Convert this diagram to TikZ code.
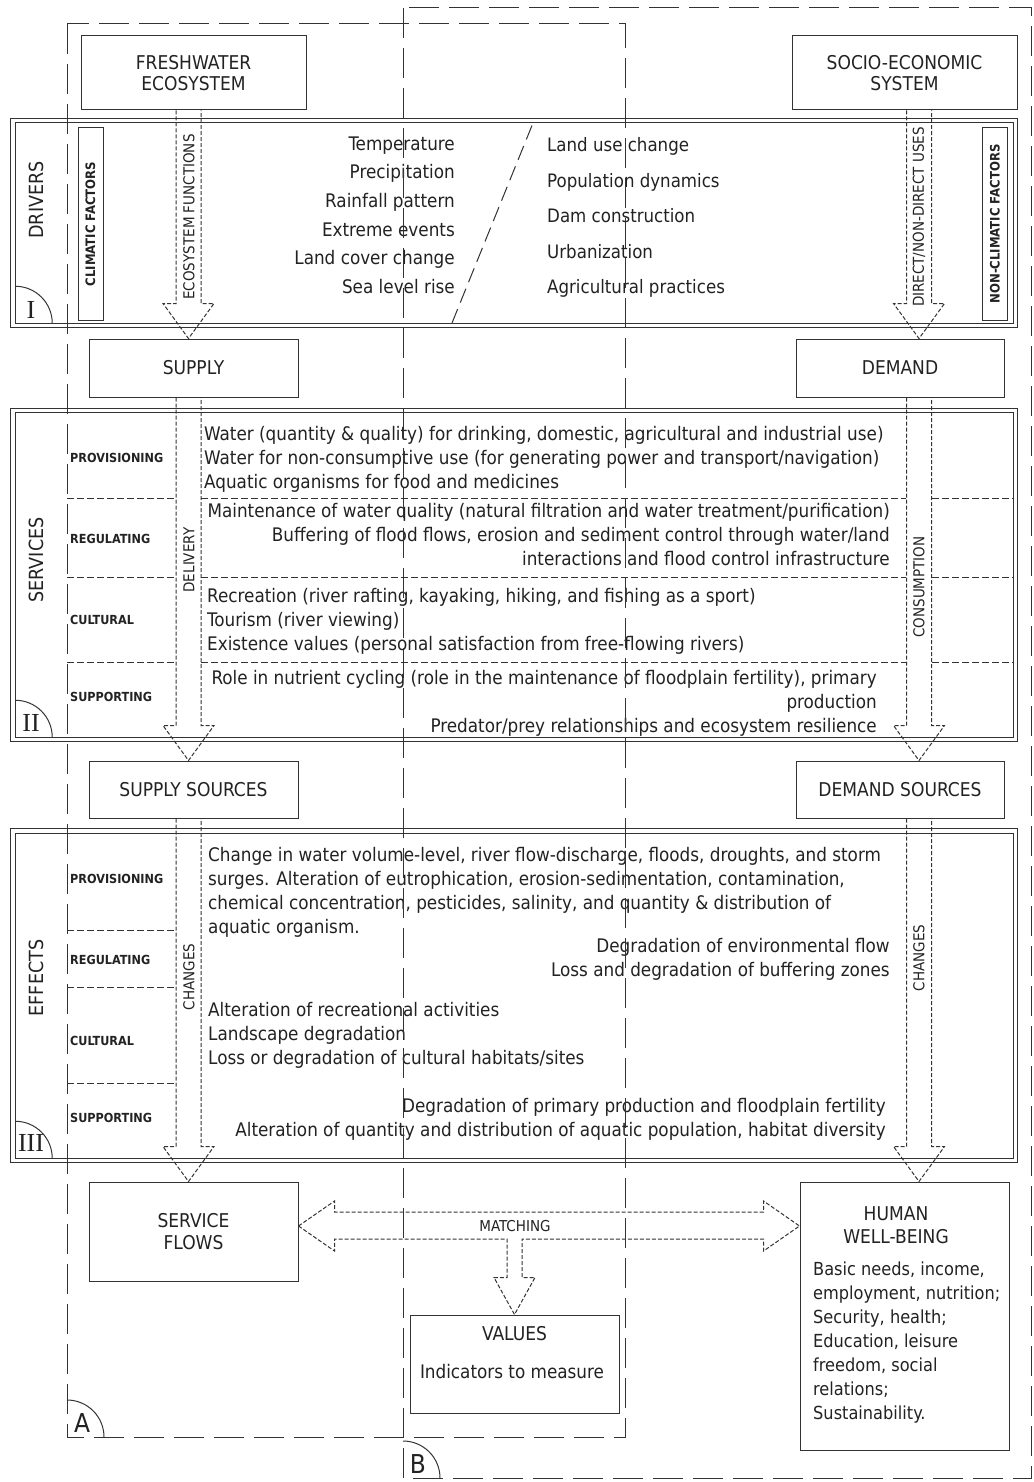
\documentclass[tikz,border=0pt]{standalone}
\usepackage{fontspec}
\setmainfont{DejaVu Sans Condensed}
\newfontfamily\romanfont{Liberation Serif}
\usepackage{tikz}
\usetikzlibrary{calc}
\definecolor{linegray}{HTML}{333333}
\definecolor{inkgray}{HTML}{222222}
\tikzstyle{box} = [rectangle, draw=linegray, line width=1pt, text centered,
    align=center, inner sep=0pt, text=inkgray, font=\fontsize{19}{21.5}\selectfont]
\tikzstyle{boxtext} = [inner sep=0pt, align=center, text=inkgray,
    font=\fontsize{19}{23}\selectfont]
\tikzstyle{panel} = [rectangle, draw=linegray, double, double distance=3.5pt,
    line width=1pt, inner sep=0pt]
\tikzstyle{frame} = [draw=linegray, line width=1pt, dash pattern=on 30pt off 10pt]
\tikzstyle{flowline} = [draw=linegray, line width=1pt, dash pattern=on 4pt off 2pt]
\tikzstyle{sepline} = [draw=linegray, line width=1pt, dash pattern=on 7pt off 3pt]
\tikzstyle{slant} = [draw=linegray, line width=1pt, dash pattern=on 15pt off 7pt]
\tikzstyle{corner} = [draw=linegray, line width=1pt]
\tikzstyle{bodytext} = [inner sep=0pt, text=inkgray, font=\fontsize{18.7}{24}\selectfont]
\tikzstyle{catlabel} = [anchor=west, inner sep=0pt, text=inkgray,
    font=\fontsize{12.5}{14}\selectfont\bfseries]
\tikzstyle{sidelabel} = [rotate=90, inner sep=0pt, text=inkgray,
    font=\fontsize{19.5}{20}\selectfont]
\tikzstyle{flowlabel} = [rotate=90, inner sep=0pt, text=inkgray,
    font=\fontsize{15}{16}\selectfont]
\tikzstyle{factorbox} = [rectangle, rotate=90, draw=linegray, line width=1pt,
    inner sep=0pt, text=inkgray, minimum width=192pt, minimum height=25pt,
    font=\fontsize{13}{14}\selectfont\bfseries]
\tikzstyle{numeral} = [inner sep=0pt, text=inkgray, font=\romanfont\fontsize{26}{26}\selectfont]
\tikzstyle{framelabel} = [inner sep=0pt, text=inkgray, font=\fontsize{26}{26}\selectfont]
% hollow dashed arrow: column, from node, to node
\newcommand{\flowdown}[3]{%
  \draw[flowline] ([xshift=-12.5pt]#1 |- #2.south)
    -- ([xshift=-12.5pt,yshift=35pt]#1 |- #3.north)
    -- ([xshift=-25.5pt,yshift=35pt]#1 |- #3.north)
    -- (#1 |- #3.north)
    -- ([xshift=25.5pt,yshift=35pt]#1 |- #3.north)
    -- ([xshift=12.5pt,yshift=35pt]#1 |- #3.north)
    -- ([xshift=12.5pt]#1 |- #2.south);}

\begin{document}
\begin{tikzpicture}[x=1pt, y=-1pt]
            \useasboundingbox (0,0) rectangle (1033,1482);
            % Panels
            \node[panel, minimum width=1002.5pt, minimum height=205pt] (drivers) at (514.25,223) {};
            \node[panel, minimum width=1002.5pt, minimum height=329pt] (services) at (514.25,575) {};
            \node[panel, minimum width=1002.5pt, minimum height=329.5pt] (effects) at (514.25,995.75) {};
            \draw[corner] (15.25,286.25) arc[start angle=90, end angle=0, radius=37pt];
            \draw[corner] (15.25,700.25) arc[start angle=90, end angle=0, radius=37pt];
            \draw[corner] (15.25,1121.25) arc[start angle=90, end angle=0, radius=37pt];
            \node[numeral] (num1) at (31,310) {I};
            \node[numeral] (num2) at (31,723) {II};
            \node[numeral] (num3) at (31,1143) {III};
            \node[sidelabel] (drvlabel) at (36,200) {DRIVERS};
            \node[sidelabel] (srvlabel) at (36,560) {SERVICES};
            \node[sidelabel] (efflabel) at (36,978) {EFFECTS};
            % Boxes
            \node[box, minimum width=225pt, minimum height=74pt] (fresh) at (193.5,73) {FRESHWATER\\ECOSYSTEM};
            \node[box, minimum width=225pt, minimum height=74pt] (socio) at (904.5,73) {SOCIO-ECONOMIC\\SYSTEM};
            \node[box, minimum width=209pt, minimum height=58pt] (supply) at (193.5,368) {SUPPLY};
            \node[box, minimum width=208pt, minimum height=58pt] (demand) at (900,368) {DEMAND};
            \node[box, minimum width=209pt, minimum height=57pt] (supsrc) at (193.5,789.5) {SUPPLY SOURCES};
            \node[box, minimum width=208pt, minimum height=57pt] (demsrc) at (900,789.5) {DEMAND SOURCES};
            \node[box, minimum width=209pt, minimum height=99pt] (sflows) at (193.5,1231.5) {SERVICE\\FLOWS};
            \node[box, minimum width=209pt, minimum height=268pt] (hwb) at (904.5,1316) {};
            \node[box, minimum width=209pt, minimum height=98pt] (values) at (514.5,1364) {};
            \node[boxtext] (hwbtitle) at (896,1225.5) {HUMAN\\WELL-BEING};
            \node[bodytext, align=left, anchor=north west, font=\fontsize{18}{24}\selectfont] (hwbtext) at (813,1261.5)
                {Basic needs, income,\\employment, nutrition;\\Security, health;\\Education, leisure\\freedom, social\\relations;\\Sustainability.};
            \node[boxtext] (valtitle) at (514.5,1334) {VALUES};
            \node[bodytext] (valtext) at (512,1372) {Indicators to measure};
            % Drivers
            \node[factorbox] (climatic) at (90.5,224) {CLIMATIC FACTORS};
            \node[factorbox] (nonclimatic) at (995,224) {NON-CLIMATIC FACTORS};
            \node[bodytext, align=right, anchor=north east, font=\fontsize{18.7}{28.6}\selectfont] (climlist) at (455,136.5)
                {Temperature\\Precipitation\\Rainfall pattern\\Extreme events\\Land cover change\\Sea level rise};
            \node[bodytext, align=left, anchor=north west, font=\fontsize{18.5}{35.5}\selectfont] (nonclimlist) at (547,137.5)
                {Land use change\\Population dynamics\\Dam construction\\Urbanization\\Agricultural practices};
            \draw[slant] (452,323) -- (533,123);
            % Services
            \foreach \name/\y [count=\i] in {PROVISIONING/458, REGULATING/539, CULTURAL/620, SUPPORTING/697}
                \node[catlabel] (srvcat\i) at (70,\y) {\name};
            \foreach \y in {498,577,662} {
                \draw[sepline] (67,\y) -- (176,\y);
                \draw[sepline] (201,\y) -- (906,\y);
                \draw[sepline] (932,\y) -- (1013,\y);
            }
            \node[bodytext, align=left, anchor=north west] (srvprov) at (204,426.5)
                {Water (quantity \& quality) for drinking, domestic, agricultural and industrial use)\\Water for non-consumptive use (for generating power and transport/navigation)\\Aquatic organisms for food and medicines};
            \node[bodytext, align=right, anchor=north east] (srvreg) at (890,503.5)
                {Maintenance of water quality (natural filtration and water treatment/purification)\\Buffering of flood flows, erosion and sediment control through water/land\\interactions and flood control infrastructure};
            \node[bodytext, align=left, anchor=north west] (srvcult) at (207,588.5)
                {Recreation (river rafting, kayaking, hiking, and fishing as a sport)\\Tourism (river viewing)\\Existence values (personal satisfaction from free-flowing rivers)};
            \node[bodytext, align=right, anchor=north east] (srvsupp) at (877,670.5)
                {Role in nutrient cycling (role in the maintenance of floodplain fertility), primary\\production\\Predator/prey relationships and ecosystem resilience};
            % Effects
            \foreach \name/\y [count=\i] in {PROVISIONING/879, REGULATING/960, CULTURAL/1041, SUPPORTING/1118}
                \node[catlabel] (effcat\i) at (70,\y) {\name};
            \foreach \y in {930,987,1083}
                \draw[sepline] (67,\y) -- (176,\y);
            \node[bodytext, align=left, anchor=north west] (effprov) at (208,847.5)
                {Change in water volume-level, river flow-discharge, floods, droughts, and storm\\surges. Alteration of eutrophication, erosion-sedimentation, contamination,\\chemical concentration, pesticides, salinity, and quantity \& distribution of\\aquatic organism.};
            \node[bodytext, align=right, anchor=north east] (effreg) at (890,938.5)
                {Degradation of environmental flow\\Loss and degradation of buffering zones};
            \node[bodytext, align=left, anchor=north west] (effcult) at (208,1002.5)
                {Alteration of recreational activities\\Landscape degradation\\Loss or degradation of cultural habitats/sites};
            \node[bodytext, align=right, anchor=north east] (effsupp) at (886,1098.5)
                {Degradation of primary production and floodplain fertility\\Alteration of quantity and distribution of aquatic population, habitat diversity};
            % Frames
            \draw[frame] (67,24) rectangle (625,1437);
            \draw[frame] (403,8) rectangle (1031,1478);
            \draw[corner] (67,1400) arc[start angle=90, end angle=0, radius=37pt];
            \draw[corner] (403,1441) arc[start angle=90, end angle=0, radius=37pt];
            \node[framelabel] (alabel) at (82,1423) {A};
            \node[framelabel] (blabel) at (418,1464) {B};
            % Arrows
            \coordinate (leftcol) at (188.5,0);
            \coordinate (rightcol) at (919,0);
            \coordinate (matchmid) at (515,1226);
            \flowdown{leftcol}{fresh}{supply}
            \flowdown{rightcol}{socio}{demand}
            \flowdown{leftcol}{supply}{supsrc}
            \flowdown{rightcol}{demand}{demsrc}
            \flowdown{leftcol}{supsrc}{sflows}
            \flowdown{rightcol}{demsrc}{hwb}
            \node[flowlabel] (ecofun) at (189,217) {ECOSYSTEM FUNCTIONS};
            \node[flowlabel] (directuse) at (919,217) {DIRECT/NON-DIRECT USES};
            \node[flowlabel] (delivery) at (189,560) {DELIVERY};
            \node[flowlabel] (consumption) at (919,587) {CONSUMPTION};
            \node[flowlabel] (supchanges) at (189,977) {CHANGES};
            \node[flowlabel] (demchanges) at (919,958) {CHANGES};
            \draw[flowline] (sflows.east |- matchmid) -- ++(36,-25) -- ++(0,11)
                -- ([xshift=-36pt,yshift=14pt]hwb.west |- matchmid) -- ++(0,-11)
                -- (hwb.west |- matchmid) -- ++(-36,25) -- ++(0,-12)
                -- ([xshift=7.5pt,yshift=-13pt]values.north |- matchmid)
                -- ([xshift=7.5pt,yshift=37pt]values.north) -- ++(13,0)
                -- (values.north) -- ++(-20.5,-37) -- ++(13,0)
                -- ([xshift=-7.5pt,yshift=-13pt]values.north |- matchmid)
                -- ([xshift=36pt,yshift=-13pt]sflows.east |- matchmid) -- ++(0,12) -- cycle;
            \node[flowlabel, rotate=-90] (matching) at (515,1226) {MATCHING};
        \end{tikzpicture}
\end{document}
